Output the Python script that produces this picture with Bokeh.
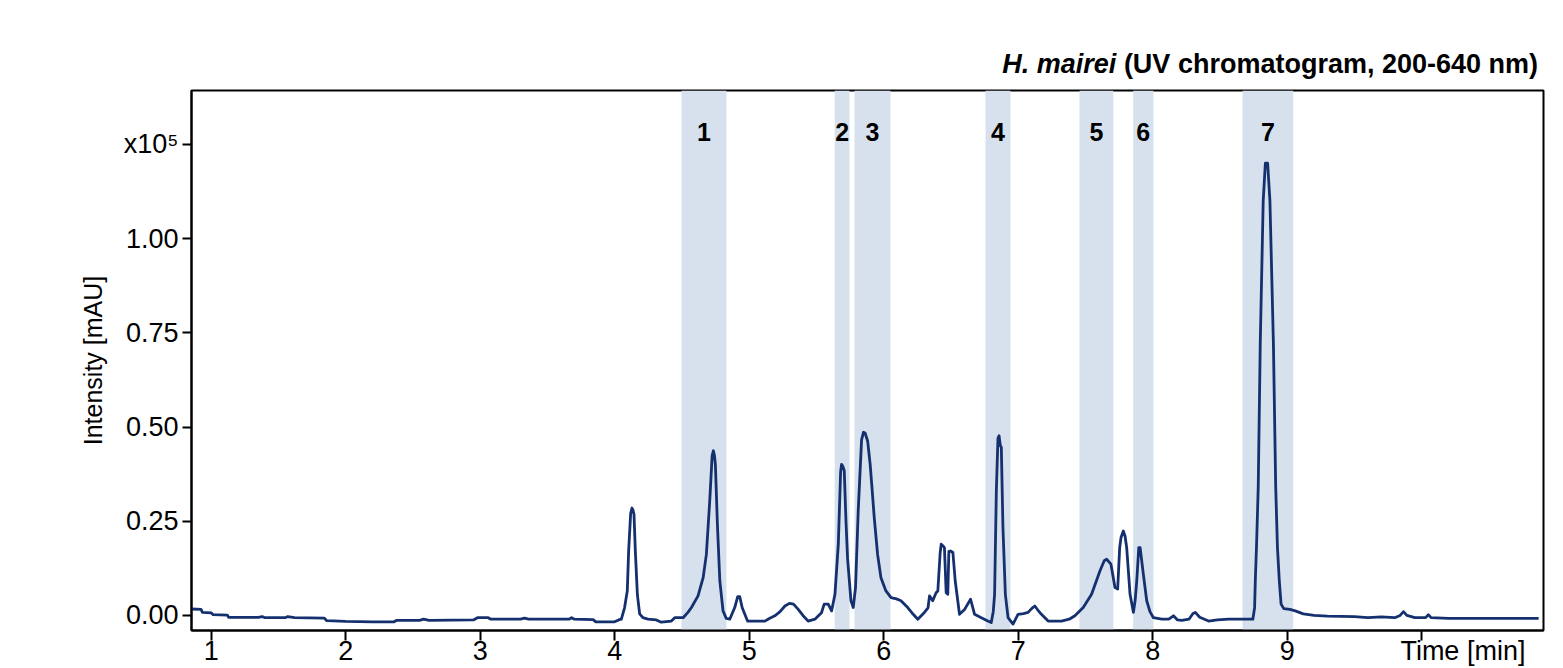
from bokeh.plotting import figure
from bokeh.models import (ColumnDataSource, Range1d, FixedTicker, NumeralTickFormatter, Div)
from bokeh.layouts import column
from bokeh.core.properties import value
from bokeh.embed import file_html
from bokeh.resources import INLINE

# ---------------- data ----------------
time_min = [
    0.854, 0.925, 0.935, 1.00, 1.015, 1.12, 1.13, 1.35, 1.38, 1.40, 1.55, 1.57, 1.62, 1.84, 1.86,
    2.00, 2.20, 2.36, 2.38, 2.55, 2.58, 2.62, 2.95, 2.98, 3.06, 3.08, 3.30, 3.33, 3.36, 3.66,
    3.68, 3.70, 3.84, 3.86, 4.00, 4.03, 4.05, 4.074, 4.094, 4.104, 4.119, 4.129, 4.136, 4.144,
    4.154, 4.169, 4.186, 4.21, 4.248, 4.31, 4.347, 4.422, 4.447, 4.509, 4.545, 4.571, 4.620,
    4.658, 4.682, 4.707, 4.725, 4.734, 4.742, 4.749, 4.764, 4.782, 4.806, 4.830, 4.856, 4.893,
    4.915, 4.930, 4.948, 4.988, 5.117, 5.150, 5.191, 5.230, 5.266, 5.300, 5.330, 5.365, 5.400,
    5.439, 5.489, 5.538, 5.558, 5.588, 5.613, 5.638, 5.663, 5.680, 5.687, 5.697, 5.707, 5.720,
    5.732, 5.757, 5.774, 5.791, 5.811, 5.836, 5.850, 5.862, 5.881, 5.900, 5.911, 5.930, 5.955,
    5.980, 6.017, 6.055, 6.095, 6.129, 6.179, 6.220, 6.254, 6.303, 6.330, 6.341, 6.365, 6.390,
    6.403, 6.420, 6.428, 6.440, 6.452, 6.465, 6.477, 6.485, 6.497, 6.515, 6.532, 6.564, 6.602,
    6.625, 6.646, 6.660, 6.676, 6.726, 6.775, 6.800, 6.815, 6.825, 6.838, 6.850, 6.858, 6.868,
    6.875, 6.887, 6.905, 6.925, 6.962, 6.999, 7.040, 7.074, 7.100, 7.124, 7.145, 7.173, 7.223,
    7.322, 7.380, 7.422, 7.484, 7.546, 7.580, 7.608, 7.640, 7.658, 7.690, 7.720, 7.740, 7.755,
    7.765, 7.782, 7.795, 7.807, 7.832, 7.857, 7.870, 7.882, 7.897, 7.907, 7.931, 7.956, 7.980,
    8.006, 8.068, 8.120, 8.155, 8.185, 8.217, 8.270, 8.300, 8.317, 8.350, 8.416, 8.480, 8.565,
    8.665, 8.745, 8.758, 8.764, 8.772, 8.785, 8.800, 8.822, 8.838, 8.855, 8.872, 8.898, 8.915,
    8.928, 8.942, 8.955, 8.975, 9.020, 9.060, 9.120, 9.200, 9.300, 9.500, 9.600, 9.700, 9.800,
    9.840, 9.865, 9.890, 9.950, 10.030, 10.050, 10.070, 10.200, 10.500, 10.870,
]
intensity_e5 = [
    0.017, 0.016, 0.008, 0.007, 0.002, 0.001, -0.005, -0.005, -0.003, -0.006, -0.006, -0.003, -0.006, -0.007, -0.014,
    -0.016, -0.017, -0.017, -0.013, -0.013, -0.010, -0.013, -0.012, -0.006, -0.006, -0.010, -0.010, -0.007, -0.010, -0.010,
    -0.006, -0.010, -0.011, -0.017, -0.017, -0.012, -0.010, 0.021, 0.065, 0.170, 0.270, 0.285, 0.280, 0.268,
    0.170, 0.055, 0.004, -0.006, -0.010, -0.012, -0.018, -0.015, -0.006, -0.006, 0.008, 0.021, 0.052,
    0.100, 0.162, 0.304, 0.424, 0.437, 0.425, 0.401, 0.242, 0.092, 0.012, -0.008, -0.010, 0.021,
    0.050, 0.050, 0.021, -0.015, -0.015, -0.008, -0.001, 0.010, 0.025, 0.032, 0.030, 0.016, 0.000,
    -0.015, -0.010, 0.007, 0.030, 0.030, 0.012, 0.056, 0.189, 0.380, 0.401, 0.395, 0.385, 0.250,
    0.150, 0.039, 0.021, 0.074, 0.278, 0.466, 0.486, 0.484, 0.463, 0.400, 0.350, 0.260, 0.162,
    0.100, 0.065, 0.047, 0.044, 0.039, 0.021, 0.003, -0.010, 0.008, 0.020, 0.052, 0.039, 0.060,
    0.065, 0.165, 0.189, 0.185, 0.180, 0.060, 0.056, 0.170, 0.171, 0.167, 0.092, 0.003, 0.016,
    0.030, 0.043, 0.025, 0.003, -0.006, -0.015, -0.019, 0.010, 0.056, 0.331, 0.470, 0.477, 0.450,
    0.446, 0.233, 0.056, -0.006, -0.023, 0.003, 0.005, 0.008, 0.018, 0.025, 0.015, 0.003, -0.015,
    -0.015, -0.010, -0.001, 0.021, 0.056, 0.090, 0.118, 0.145, 0.149, 0.136, 0.074, 0.070, 0.180,
    0.207, 0.224, 0.210, 0.180, 0.056, 0.008, 0.040, 0.092, 0.180, 0.180, 0.109, 0.039, 0.010,
    -0.006, -0.010, -0.010, -0.001, -0.012, -0.013, -0.010, 0.005, 0.008, -0.005, -0.015, -0.012, -0.010,
    -0.010, -0.010, 0.020, 0.100, 0.180, 0.340, 0.720, 1.100, 1.200, 1.200, 1.100, 0.720, 0.340,
    0.180, 0.090, 0.030, 0.018, 0.016, 0.012, 0.004, 0.000, -0.002, -0.003, -0.006, -0.004, -0.006,
    0.000, 0.010, 0.000, -0.006, -0.006, 0.002, -0.006, -0.008, -0.008, -0.008,
]

peak_labels = ["1", "2", "3", "4", "5", "6", "7"]
band_start = [4.497, 5.636, 5.783, 6.757, 7.456, 7.855, 8.668]
band_end = [4.831, 5.746, 6.051, 6.943, 7.708, 8.006, 9.045]

x_ticks = [1, 2, 3, 4, 5, 6, 7, 8, 9, 10]
y_ticks = [0.0, 0.25, 0.5, 0.75, 1.0, 1.25]

title_species = "H. mairei"
title_rest = "(UV chromatogram, 200-640 nm)"
x_label = "Time [min]"
y_label = "Intensity [mAU]"
y_scale_label = "x10\u2075"

# ---------------- styling ----------------
FONT = "Liberation Sans"
LINE_COLOR = "#15306e"
BAND_COLOR = "#d6e1ed"
W = 1555

title_div = Div(
    text=('<div style="display:block; width:1538px; text-align:right; '
          'font-family:\'Liberation Sans\', Arial, sans-serif; '
          'font-size:27px; font-weight:bold; color:black; line-height:30px; '
          'padding:49px 0 0 0; margin:0; white-space:nowrap;">'
          f'<i>{title_species}</i> {title_rest}</div>'),
    width=W, height=80, margin=(0, 0, 0, 0))

x_range = Range1d(0.854, 10.906)
y_range = Range1d(-0.040, 1.393)

p = figure(width=W, height=588, x_range=x_range, y_range=y_range,
           output_backend="svg", toolbar_location=None, title=None,
           min_border_left=191, min_border_right=12, min_border_top=10, min_border_bottom=38,
           margin=(0, 0, 0, 0))

p.background_fill_color = "white"
p.border_fill_color = "white"
p.outline_line_color = "black"
p.outline_line_width = 2
p.xgrid.visible = False
p.ygrid.visible = False

# shaded bands
band_src = ColumnDataSource(dict(left=band_start, right=band_end,
                                 center=[(a + b) / 2 for a, b in zip(band_start, band_end)],
                                 label=peak_labels))
p.quad(left="left", right="right", bottom=y_range.start, top=y_range.end,
       source=band_src, fill_color=BAND_COLOR, line_color=None)

# chromatogram
src = ColumnDataSource(dict(t=time_min, y=intensity_e5))
p.line("t", "y", source=src, line_color=LINE_COLOR, line_width=2.8, line_join="round")

# peak numbers
p.text(x="center", y=1.282, text="label", source=band_src,
       text_font=value(FONT), text_font_style="bold", text_font_size="25px",
       text_align="center", text_baseline="alphabetic", text_color="black")

# axes
xa = p.xaxis[0]
xa.ticker = FixedTicker(ticks=x_ticks, minor_ticks=[])
# the axis title takes the place of the "10" tick label (shifted right with no-break spaces)
xa.major_label_overrides = {10: "\u00a0" * 11 + x_label}
ya = p.yaxis[0]
ya.ticker = FixedTicker(ticks=y_ticks, minor_ticks=[])
ya.formatter = NumeralTickFormatter(format="0.00")
ya.major_label_overrides = {1.25: y_scale_label}
ya.axis_label = y_label

for ax in (xa, ya):
    ax.axis_line_color = "black"
    ax.axis_line_width = 2
    ax.major_tick_line_color = "black"
    ax.major_tick_line_width = 2
    ax.major_tick_in = 0
    ax.minor_tick_line_color = None
    ax.major_label_text_font = FONT
    ax.major_label_text_font_size = "27px"
    ax.major_label_text_color = "black"
    ax.axis_label_text_font = FONT
    ax.axis_label_text_font_style = "normal"
    ax.axis_label_text_color = "black"

ya.axis_label_text_font_size = "25px"
xa.major_tick_out = 10
xa.major_label_standoff = -5
ya.major_tick_out = 9
ya.major_label_standoff = 4
ya.axis_label_standoff = 14

layout = column(title_div, p, spacing=0, margin=(0, 0, 0, 0))
open("out.html", "w").write(file_html(layout, INLINE))
